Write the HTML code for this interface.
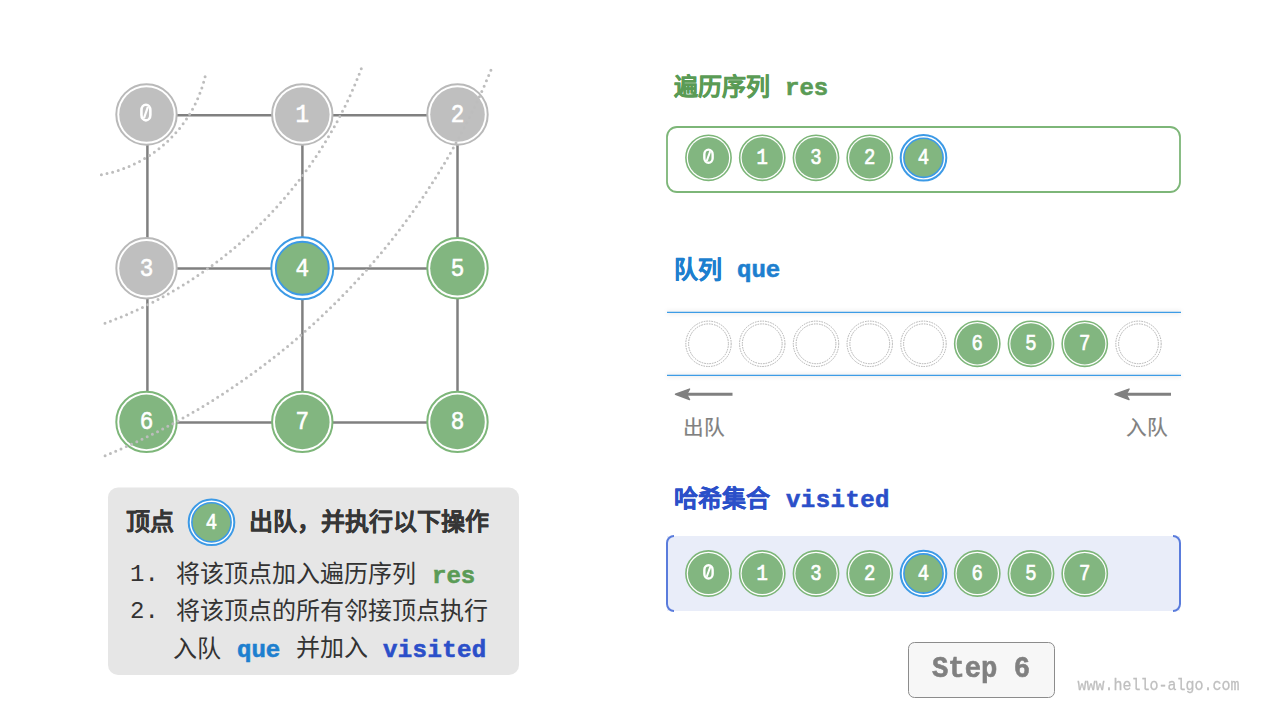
<!DOCTYPE html>
<html lang="zh-CN"><head><meta charset="utf-8"><style>
html,body{margin:0;padding:0;background:#fff;width:1280px;height:720px;overflow:hidden}
body{position:relative;font-family:"Liberation Sans",sans-serif}
svg{position:absolute;left:0;top:0}
.bn{font-family:"Liberation Mono",monospace;font-size:26px;fill:#fff;stroke:#fff;stroke-width:0.6px;text-anchor:middle}
.sn{font-family:"Liberation Mono",monospace;font-size:22px;fill:#fff;stroke:#fff;stroke-width:0.7px;text-anchor:middle}
.t{position:absolute;white-space:nowrap;line-height:1}
.m{font-family:"Liberation Mono",monospace;font-weight:bold;-webkit-text-stroke:0.6px currentColor}
.mn{font-family:"Liberation Mono",monospace}
.b{font-weight:bold}
</style></head><body>
<svg width="1280" height="720" viewBox="0 0 1280 720">
<line x1="147.4" y1="115.3" x2="457.5" y2="115.3" stroke="#808080" stroke-width="2.5"/>
<line x1="147.4" y1="268.5" x2="457.5" y2="268.5" stroke="#808080" stroke-width="2.5"/>
<line x1="147.4" y1="422.4" x2="457.5" y2="422.4" stroke="#808080" stroke-width="2.5"/>
<line x1="147.4" y1="115.3" x2="147.4" y2="422.4" stroke="#808080" stroke-width="2.5"/>
<line x1="302.4" y1="115.3" x2="302.4" y2="422.4" stroke="#808080" stroke-width="2.5"/>
<line x1="457.5" y1="115.3" x2="457.5" y2="422.4" stroke="#808080" stroke-width="2.5"/>
<circle cx="146.5" cy="114.5" r="30.2" fill="#fff" stroke="#b9b9b9" stroke-width="2"/>
<circle cx="146.5" cy="114.5" r="27.3" fill="#bfbfbf"/>
<rect x="141.45" y="104.80" width="8.90" height="15.60" rx="4.45" ry="5.46" fill="none" stroke="#fff" stroke-width="2.6"/><line x1="147.90" y1="106.80" x2="143.90" y2="118.40" stroke="#fff" stroke-width="2.2"/>
<circle cx="302.3" cy="114.5" r="30.2" fill="#fff" stroke="#b9b9b9" stroke-width="2"/>
<circle cx="302.3" cy="114.5" r="27.3" fill="#bfbfbf"/>
<text transform="translate(302.3 121.9) scale(0.87 1)" class="bn">1</text>
<circle cx="457.5" cy="114.5" r="30.2" fill="#fff" stroke="#b9b9b9" stroke-width="2"/>
<circle cx="457.5" cy="114.5" r="27.3" fill="#bfbfbf"/>
<text transform="translate(457.5 121.9) scale(0.87 1)" class="bn">2</text>
<circle cx="146.5" cy="268.3" r="30.2" fill="#fff" stroke="#b9b9b9" stroke-width="2"/>
<circle cx="146.5" cy="268.3" r="27.3" fill="#bfbfbf"/>
<text transform="translate(146.5 275.7) scale(0.87 1)" class="bn">3</text>
<circle cx="302.3" cy="268.3" r="31" fill="#fff" stroke="#3c9ae6" stroke-width="1.9"/>
<circle cx="302.3" cy="268.3" r="26.5" fill="#82b680" stroke="#3c9ae6" stroke-width="1.9"/>
<text transform="translate(302.3 275.7) scale(0.87 1)" class="bn">4</text>
<circle cx="457.5" cy="268.3" r="30.2" fill="#fff" stroke="#7db679" stroke-width="2"/>
<circle cx="457.5" cy="268.3" r="27.3" fill="#82b680"/>
<text transform="translate(457.5 275.7) scale(0.87 1)" class="bn">5</text>
<circle cx="146.5" cy="421.9" r="30.2" fill="#fff" stroke="#7db679" stroke-width="2"/>
<circle cx="146.5" cy="421.9" r="27.3" fill="#82b680"/>
<text transform="translate(146.5 429.29999999999995) scale(0.87 1)" class="bn">6</text>
<circle cx="302.3" cy="421.9" r="30.2" fill="#fff" stroke="#7db679" stroke-width="2"/>
<circle cx="302.3" cy="421.9" r="27.3" fill="#82b680"/>
<text transform="translate(302.3 429.29999999999995) scale(0.87 1)" class="bn">7</text>
<circle cx="457.5" cy="421.9" r="30.2" fill="#fff" stroke="#7db679" stroke-width="2"/>
<circle cx="457.5" cy="421.9" r="27.3" fill="#82b680"/>
<text transform="translate(457.5 429.29999999999995) scale(0.87 1)" class="bn">8</text>
<path d="M101.4 174.7 A130.7 130.7 0 0 0 206.3 71.2" fill="none" stroke="#bdbdbd" stroke-width="3" stroke-linecap="round" stroke-dasharray="0 5.7945"/>
<path d="M105.0 323.3 A436.3 436.3 0 0 0 361.3 68.7" fill="none" stroke="#bdbdbd" stroke-width="3" stroke-linecap="round" stroke-dasharray="0 5.8168"/>
<path d="M105.1 455.7 A706.0 706.0 0 0 0 491.0 70.0" fill="none" stroke="#bdbdbd" stroke-width="3" stroke-linecap="round" stroke-dasharray="0 5.7717"/>
<rect x="667" y="127" width="513" height="65" rx="10" fill="none" stroke="#7db678" stroke-width="1.8"/>
<circle cx="708.5" cy="157.8" r="22.6" fill="#fff" stroke="#7db679" stroke-width="1.6"/>
<circle cx="708.5" cy="157.8" r="20.6" fill="#82b680"/>
<rect x="704.35" y="149.60" width="8.30" height="13.20" rx="4.15" ry="4.62" fill="none" stroke="#fff" stroke-width="2.4"/><line x1="710.30" y1="151.20" x2="706.70" y2="161.20" stroke="#fff" stroke-width="2.0"/>
<circle cx="762.25" cy="157.8" r="22.6" fill="#fff" stroke="#7db679" stroke-width="1.6"/>
<circle cx="762.25" cy="157.8" r="20.6" fill="#82b680"/>
<text transform="translate(762.25 164.20000000000002) scale(0.86 1)" class="sn">1</text>
<circle cx="816.0" cy="157.8" r="22.6" fill="#fff" stroke="#7db679" stroke-width="1.6"/>
<circle cx="816.0" cy="157.8" r="20.6" fill="#82b680"/>
<text transform="translate(816.0 164.20000000000002) scale(0.86 1)" class="sn">3</text>
<circle cx="869.75" cy="157.8" r="22.6" fill="#fff" stroke="#7db679" stroke-width="1.6"/>
<circle cx="869.75" cy="157.8" r="20.6" fill="#82b680"/>
<text transform="translate(869.75 164.20000000000002) scale(0.86 1)" class="sn">2</text>
<circle cx="923.5" cy="157.8" r="22.8" fill="#fff" stroke="#3c9ae6" stroke-width="2"/>
<circle cx="923.5" cy="157.8" r="19.6" fill="#82b680" stroke="#3c9ae6" stroke-width="1.6"/>
<text transform="translate(923.5 164.20000000000002) scale(0.86 1)" class="sn">4</text>
<defs><filter id="sh" filterUnits="userSpaceOnUse" x="640" y="280" width="580" height="130"><feGaussianBlur stdDeviation="2.3"/></filter></defs>
<line x1="667" y1="312.5" x2="1181" y2="312.5" stroke="#000" stroke-opacity="0.09" stroke-width="3" filter="url(#sh)"/>
<line x1="667" y1="375.5" x2="1181" y2="375.5" stroke="#000" stroke-opacity="0.09" stroke-width="3" filter="url(#sh)"/>
<line x1="667" y1="312.4" x2="1181" y2="312.4" stroke="#3d9ce6" stroke-width="1.3"/>
<line x1="667" y1="375.4" x2="1181" y2="375.4" stroke="#3d9ce6" stroke-width="1.3"/>
<circle cx="708.5" cy="343.8" r="22.7" fill="none" stroke="#a8a8a8" stroke-width="0.9" stroke-dasharray="1.6 1"/>
<circle cx="708.5" cy="343.8" r="19.9" fill="none" stroke="#a8a8a8" stroke-width="0.9" stroke-dasharray="1.6 1"/>
<circle cx="762.25" cy="343.8" r="22.7" fill="none" stroke="#a8a8a8" stroke-width="0.9" stroke-dasharray="1.6 1"/>
<circle cx="762.25" cy="343.8" r="19.9" fill="none" stroke="#a8a8a8" stroke-width="0.9" stroke-dasharray="1.6 1"/>
<circle cx="816.0" cy="343.8" r="22.7" fill="none" stroke="#a8a8a8" stroke-width="0.9" stroke-dasharray="1.6 1"/>
<circle cx="816.0" cy="343.8" r="19.9" fill="none" stroke="#a8a8a8" stroke-width="0.9" stroke-dasharray="1.6 1"/>
<circle cx="869.75" cy="343.8" r="22.7" fill="none" stroke="#a8a8a8" stroke-width="0.9" stroke-dasharray="1.6 1"/>
<circle cx="869.75" cy="343.8" r="19.9" fill="none" stroke="#a8a8a8" stroke-width="0.9" stroke-dasharray="1.6 1"/>
<circle cx="923.5" cy="343.8" r="22.7" fill="none" stroke="#a8a8a8" stroke-width="0.9" stroke-dasharray="1.6 1"/>
<circle cx="923.5" cy="343.8" r="19.9" fill="none" stroke="#a8a8a8" stroke-width="0.9" stroke-dasharray="1.6 1"/>
<circle cx="977.25" cy="343.8" r="22.6" fill="#fff" stroke="#7db679" stroke-width="1.6"/>
<circle cx="977.25" cy="343.8" r="20.6" fill="#82b680"/>
<text transform="translate(977.25 350.2) scale(0.86 1)" class="sn">6</text>
<circle cx="1031.0" cy="343.8" r="22.6" fill="#fff" stroke="#7db679" stroke-width="1.6"/>
<circle cx="1031.0" cy="343.8" r="20.6" fill="#82b680"/>
<text transform="translate(1031.0 350.2) scale(0.86 1)" class="sn">5</text>
<circle cx="1084.75" cy="343.8" r="22.6" fill="#fff" stroke="#7db679" stroke-width="1.6"/>
<circle cx="1084.75" cy="343.8" r="20.6" fill="#82b680"/>
<text transform="translate(1084.75 350.2) scale(0.86 1)" class="sn">7</text>
<circle cx="1138.5" cy="343.8" r="22.7" fill="none" stroke="#a8a8a8" stroke-width="0.9" stroke-dasharray="1.6 1"/>
<circle cx="1138.5" cy="343.8" r="19.9" fill="none" stroke="#a8a8a8" stroke-width="0.9" stroke-dasharray="1.6 1"/>
<line x1="681.5" y1="394.3" x2="732.5" y2="394.3" stroke="#808080" stroke-width="3"/><path d="M675.5 394.3 L689.5 389.1 L686.5 394.3 L689.5 399.5 Z" fill="#808080" stroke="#808080" stroke-width="1.5" stroke-linejoin="round"/>
<line x1="1121" y1="394.3" x2="1171" y2="394.3" stroke="#808080" stroke-width="3"/><path d="M1115 394.3 L1129 389.1 L1126 394.3 L1129 399.5 Z" fill="#808080" stroke="#808080" stroke-width="1.5" stroke-linejoin="round"/>
<rect x="667" y="536" width="513" height="75" fill="#e9edf9"/>
<path d="M674 536 A7 7 0 0 0 667 543 L667 604 A7 7 0 0 0 674 611" fill="none" stroke="#5a7cdc" stroke-width="2"/>
<path d="M1173 536 A7 7 0 0 1 1180 543 L1180 604 A7 7 0 0 1 1173 611" fill="none" stroke="#5a7cdc" stroke-width="2"/>
<circle cx="708.5" cy="573.5" r="22.6" fill="#fff" stroke="#7db679" stroke-width="1.6"/>
<circle cx="708.5" cy="573.5" r="20.6" fill="#82b680"/>
<rect x="704.35" y="565.30" width="8.30" height="13.20" rx="4.15" ry="4.62" fill="none" stroke="#fff" stroke-width="2.4"/><line x1="710.30" y1="566.90" x2="706.70" y2="576.90" stroke="#fff" stroke-width="2.0"/>
<circle cx="762.25" cy="573.5" r="22.6" fill="#fff" stroke="#7db679" stroke-width="1.6"/>
<circle cx="762.25" cy="573.5" r="20.6" fill="#82b680"/>
<text transform="translate(762.25 579.9) scale(0.86 1)" class="sn">1</text>
<circle cx="816.0" cy="573.5" r="22.6" fill="#fff" stroke="#7db679" stroke-width="1.6"/>
<circle cx="816.0" cy="573.5" r="20.6" fill="#82b680"/>
<text transform="translate(816.0 579.9) scale(0.86 1)" class="sn">3</text>
<circle cx="869.75" cy="573.5" r="22.6" fill="#fff" stroke="#7db679" stroke-width="1.6"/>
<circle cx="869.75" cy="573.5" r="20.6" fill="#82b680"/>
<text transform="translate(869.75 579.9) scale(0.86 1)" class="sn">2</text>
<circle cx="923.5" cy="573.5" r="22.8" fill="#fff" stroke="#3c9ae6" stroke-width="2"/>
<circle cx="923.5" cy="573.5" r="19.6" fill="#82b680" stroke="#3c9ae6" stroke-width="1.6"/>
<text transform="translate(923.5 579.9) scale(0.86 1)" class="sn">4</text>
<circle cx="977.25" cy="573.5" r="22.6" fill="#fff" stroke="#7db679" stroke-width="1.6"/>
<circle cx="977.25" cy="573.5" r="20.6" fill="#82b680"/>
<text transform="translate(977.25 579.9) scale(0.86 1)" class="sn">6</text>
<circle cx="1031.0" cy="573.5" r="22.6" fill="#fff" stroke="#7db679" stroke-width="1.6"/>
<circle cx="1031.0" cy="573.5" r="20.6" fill="#82b680"/>
<text transform="translate(1031.0 579.9) scale(0.86 1)" class="sn">5</text>
<circle cx="1084.75" cy="573.5" r="22.6" fill="#fff" stroke="#7db679" stroke-width="1.6"/>
<circle cx="1084.75" cy="573.5" r="20.6" fill="#82b680"/>
<text transform="translate(1084.75 579.9) scale(0.86 1)" class="sn">7</text>
<rect x="108" y="487.5" width="411" height="187.5" rx="10" fill="#e6e6e6"/>
<circle cx="211.5" cy="522.3" r="22.8" fill="#fff" stroke="#3c9ae6" stroke-width="2"/>
<circle cx="211.5" cy="522.3" r="19.6" fill="#82b680" stroke="#3c9ae6" stroke-width="1.6"/>
<text transform="translate(211.5 528.6999999999999) scale(0.86 1)" class="sn">4</text>
<rect x="908.5" y="642.5" width="146" height="55" rx="6" fill="#f7f7f7" stroke="#8c8c8c" stroke-width="1"/>
</svg>
<div class="t b" style="left:674px;top:75px;font-size:24px;color:#5a9b55;-webkit-text-stroke:0.3px #5a9b55">遍历序列</div>
<div class="t m" style="left:785px;top:77px;font-size:24px;color:#5a9b55">res</div>
<div class="t b" style="left:674px;top:257.5px;font-size:24px;color:#1d7fcf;-webkit-text-stroke:0.3px #1d7fcf">队列</div>
<div class="t m" style="left:737px;top:259px;font-size:24px;color:#1d7fcf">que</div>
<div class="t b" style="left:674px;top:487px;font-size:24px;color:#2b4fc9;-webkit-text-stroke:0.3px #2b4fc9">哈希集合</div>
<div class="t m" style="left:786px;top:489px;font-size:24px;color:#2b4fc9;letter-spacing:0.45px">visited</div>
<div class="t" style="left:682.5px;top:418px;font-size:20.6px;color:#808080;-webkit-text-stroke:0.2px #808080">出队</div>
<div class="t" style="left:1125.5px;top:418px;font-size:20.6px;color:#808080;-webkit-text-stroke:0.2px #808080">入队</div>
<div class="t b" style="left:126px;top:510px;font-size:24px;color:#363636;-webkit-text-stroke:0.15px #363636">顶点</div>
<div class="t b" style="left:248.5px;top:510px;font-size:24px;color:#363636;-webkit-text-stroke:0.15px #363636">出队，并执行以下操作</div>
<div class="t mn" style="left:130px;top:563px;font-size:24px;color:#333">1.</div>
<div class="t" style="left:176px;top:562px;font-size:24px;color:#333">将该顶点加入遍历序列</div>
<div class="t m" style="left:432px;top:565px;font-size:24px;color:#5a9b55">res</div>
<div class="t mn" style="left:130px;top:600px;font-size:24px;color:#333">2.</div>
<div class="t" style="left:176px;top:599px;font-size:24px;color:#333">将该顶点的所有邻接顶点执行</div>
<div class="t" style="left:173px;top:637px;font-size:24px;color:#333">入队</div>
<div class="t m" style="left:237px;top:639px;font-size:24px;color:#1d7fcf">que</div>
<div class="t" style="left:296px;top:636px;font-size:24px;color:#333">并加入</div>
<div class="t m" style="left:383px;top:639px;font-size:24px;color:#2b4fc9;letter-spacing:0.4px">visited</div>
<div class="t m" style="left:932px;top:654.5px;font-size:29px;color:#808080;transform:scaleX(0.94);transform-origin:0 0">Step 6</div>
<div class="t mn" style="left:1077.5px;top:678.5px;font-size:15px;color:#bfbfbf;-webkit-text-stroke:0.25px #bfbfbf;transform:scaleY(1.1);transform-origin:0 100%">www.hello-algo.com</div>
</body></html>
